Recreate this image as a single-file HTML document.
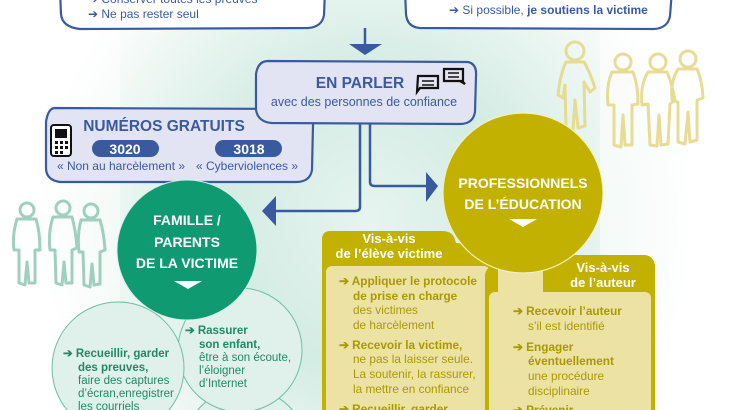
<!DOCTYPE html>
<html><head><meta charset="utf-8"><style>
html,body{margin:0;padding:0;overflow:hidden}
body{width:730px;height:410px;overflow:hidden;font-family:"Liberation Sans",sans-serif;background:#fff}
svg{display:block}
text{font-family:"Liberation Sans",sans-serif}
</style></head><body>
<svg width="730" height="410" viewBox="0 0 730 410" xmlns="http://www.w3.org/2000/svg" overflow="hidden">
<defs>
<radialGradient id="bg" cx="370" cy="220" r="330" gradientUnits="userSpaceOnUse">
<stop offset="0" stop-color="#e6f4ef"/><stop offset="0.45" stop-color="#d3ece4"/><stop offset="0.8" stop-color="#eef7f3"/><stop offset="1" stop-color="#ffffff"/>
</radialGradient>
<clipPath id="cl"><rect width="730" height="410"/></clipPath>
</defs>
<g clip-path="url(#cl)">
<rect width="730" height="410" fill="url(#bg)"/>
<rect x="0" y="0" width="120" height="410" fill="#ffffff" opacity="0.45"/>
<rect x="600" y="0" width="130" height="410" fill="#ffffff" opacity="0.55"/>

<!-- top boxes -->
<path d="M60,-10 L325,-10 L324,15 Q322,27 308,28 L80,29 Q62,27 61,14 Z" fill="#fff" stroke="#3a5aa0" stroke-width="2.2"/>
<text x="88" y="3" font-size="12" fill="#3a5aa0">➔  Conserver toutes les preuves</text>
<text x="88" y="18" font-size="12" fill="#3a5aa0">➔  Ne pas rester seul</text>
<path d="M405,-10 L672,-10 L670,16 Q668,28 654,29 L420,28 Q407,27 406,14 Z" fill="#fff" stroke="#3a5aa0" stroke-width="2.2"/>
<text x="449" y="14" font-size="12" fill="#3a5aa0">➔  Si possible, <tspan font-weight="bold">je soutiens la victime</tspan></text>

<!-- down arrow -->
<line x1="365" y1="28" x2="365" y2="48" stroke="#3a5aa0" stroke-width="2.5"/>
<polygon points="349,44 382,44 365,55" fill="#3a5aa0"/>

<!-- connectors -->
<path d="M360,120 L360,207 Q360,211 355,211 L275,211" fill="none" stroke="#3a5aa0" stroke-width="2.5"/>
<polygon points="262,211 276,196 276,226" fill="#3a5aa0"/>
<path d="M370,120 L370,182 Q370,186 375,186 L428,186" fill="none" stroke="#3a5aa0" stroke-width="2.5"/>
<polygon points="438,186 426,172 426,202" fill="#3a5aa0"/>

<!-- numeros box -->
<path d="M55,108 L305,109 Q314,112 313,125 L312,170 Q310,182 296,182 L60,182 Q46,180 46,168 L46,122 Q48,108 55,108 Z" fill="#e2e3f3" stroke="#3a5aa0" stroke-width="2.2"/>
<text x="164" y="131" font-size="15.5" font-weight="bold" fill="#3a5aa0" text-anchor="middle">NUMÉROS GRATUITS</text>
<rect x="51" y="125" width="20" height="31" rx="3" fill="#fff" stroke="#111" stroke-width="2"/>
<rect x="55" y="129" width="12" height="9" fill="#111"/>
<g fill="#111"><rect x="55" y="141" width="3" height="3"/><rect x="60" y="141" width="3" height="3"/><rect x="65" y="141" width="3" height="3"/><rect x="55" y="146" width="3" height="3"/><rect x="60" y="146" width="3" height="3"/><rect x="65" y="146" width="3" height="3"/><rect x="55" y="151" width="3" height="3"/><rect x="60" y="151" width="3" height="3"/></g>
<rect x="92" y="140" width="67" height="17" rx="8.5" fill="#3a5aa0"/>
<text x="125" y="154" font-size="14" font-weight="bold" fill="#fff" text-anchor="middle">3020</text>
<rect x="215" y="140" width="67" height="17" rx="8.5" fill="#3a5aa0"/>
<text x="249" y="154" font-size="14" font-weight="bold" fill="#fff" text-anchor="middle">3018</text>
<text x="121" y="170" font-size="12" fill="#3a5aa0" text-anchor="middle">« Non au harcèlement »</text>
<text x="247" y="170" font-size="12" fill="#3a5aa0" text-anchor="middle">« Cyberviolences »</text>

<!-- en parler box -->
<path d="M268,61 L468,62 Q477,64 476,76 L475,112 Q473,124 460,124 L272,123 Q258,122 256,110 L256,74 Q258,61 268,61 Z" fill="#e2e3f3" stroke="#3a5aa0" stroke-width="2.2"/>
<text x="360" y="88" font-size="15.5" font-weight="bold" fill="#3a5aa0" text-anchor="middle">EN PARLER</text>
<text x="364" y="106" font-size="12.5" fill="#3a5aa0" text-anchor="middle">avec des personnes de confiance</text>
<g fill="none" stroke="#111" stroke-width="2.2">
<path d="M418,76 h20 v12 h-18 l-3,4 z"/>
<path d="M444,69 h19 v12 h-1 l3,3 l-5,-3 h-16 z"/>
</g>
<g stroke="#111" stroke-width="1.5"><line x1="422" y1="81" x2="434" y2="81"/><line x1="422" y1="85" x2="434" y2="85"/><line x1="448" y1="73" x2="459" y2="73"/><line x1="448" y1="77" x2="459" y2="77"/></g>

<!-- people right (gold) -->
<g fill="none" stroke="#e6d98a" stroke-width="3" stroke-linejoin="round" opacity="0.9">
<circle cx="575" cy="51" r="9"/><path d="M566,62 Q560,75 558,95 L563,98 L565,85 L566,128 L573,130 L575,100 L578,128 L585,126 L584,82 L590,92 L595,88 Q590,72 584,62 Z"/>
<circle cx="623" cy="62" r="8"/><path d="M612,72 Q606,85 608,105 L614,105 L614,145 L621,147 L623,115 L625,145 L632,145 L632,105 L638,104 Q638,85 633,72 Z"/>
<circle cx="658" cy="62" r="8"/><path d="M648,72 Q640,85 642,105 L648,104 L650,145 L657,146 L659,115 L661,145 L668,144 L670,104 L675,100 Q672,84 667,72 Z"/>
<circle cx="688" cy="59" r="8"/><path d="M678,69 Q670,82 672,100 L678,102 L678,142 L685,144 L688,112 L690,142 L697,140 L697,100 L703,98 Q702,80 697,69 Z"/>
</g>
<!-- people left (teal) -->
<g fill="none" stroke="#9fd0bf" stroke-width="3" stroke-linejoin="round">
<circle cx="27" cy="210" r="7"/><path d="M17,219 Q12,235 14,250 L19,250 L19,283 L25,285 L27,262 L29,283 L35,283 L35,250 L40,250 Q40,232 36,219 Z"/>
<circle cx="63" cy="208" r="7"/><path d="M53,217 Q48,232 50,250 L55,250 L56,283 L62,285 L64,262 L66,283 L72,283 L72,250 L77,248 Q76,232 72,217 Z"/>
<circle cx="91" cy="211" r="7"/><path d="M81,220 Q77,235 79,252 L83,252 L84,285 L90,287 L92,264 L94,285 L100,284 L100,252 L105,250 Q104,233 100,220 Z"/>
</g>

<!-- light green bubbles -->
<circle cx="245" cy="450" r="62" fill="#e0f0ea" stroke="#6fbfa3" stroke-width="1"/>
<circle cx="240" cy="350" r="62" fill="#e0f0ea" stroke="#6fbfa3" stroke-width="1"/>
<circle cx="118" cy="368" r="66" fill="#e0f0ea" stroke="#6fbfa3" stroke-width="1"/>

<!-- green circle -->
<circle cx="187" cy="250" r="70" fill="#0f9a72" stroke="#d8f0e8" stroke-width="1"/>
<g font-size="14" font-weight="bold" fill="#fff" text-anchor="middle">
<text x="187" y="225">FAMILLE /</text>
<text x="187" y="247">PARENTS</text>
<text x="187" y="268">DE LA VICTIME</text>
</g>
<polygon points="174,281 202,281 188,289" fill="#fff"/>

<g font-size="11.5" fill="#1f8a67">
<text x="185" y="334" font-weight="bold">➔ Rassurer</text>
<text x="199" y="348" font-weight="bold">son enfant,</text>
<text x="199" y="361">être à son écoute,</text>
<text x="199" y="374">l’éloigner</text>
<text x="199" y="387">d’Internet</text>
<text x="63" y="357" font-weight="bold">➔ Recueillir, garder</text>
<text x="78" y="371" font-weight="bold">des preuves,</text>
<text x="78" y="384">faire des captures</text>
<text x="78" y="397">d’écran,enregistrer</text>
<text x="78" y="410">les courriels</text>
</g>

<!-- gold cards -->
<path d="M322,410 L322,238 Q323,231 330,231 L442,231 Q453,231 455,240 L456,243 Q482,244 495,255 Q500,262 500,270 L500,410 Z" fill="#c2b100"/>
<rect x="326" y="266" width="164" height="150" rx="6" fill="#ece2a4"/>
<path d="M485,410 L485,275 Q486,266 496,266 L543,266 L543,262 Q544,255 552,255 L645,255 Q653,256 655,265 L655,410 Z" fill="#c2b100"/>
<rect x="489" y="292" width="162" height="125" rx="6" fill="#ece2a4"/>
<rect x="498" y="268" width="45" height="24" fill="#ece2a4"/>
<g font-size="13" font-weight="bold" fill="#fff" text-anchor="middle">
<text x="389" y="243">Vis-à-vis</text>
<text x="389" y="258">de l’élève victime</text>
<text x="603" y="272">Vis-à-vis</text>
<text x="603" y="287">de l’auteur</text>
</g>
<g font-size="11.8" fill="#a99a00">
<text x="339" y="285" font-weight="bold">➔ Appliquer le protocole</text>
<text x="353" y="300" font-weight="bold">de prise en charge</text>
<text x="353" y="314">des victimes</text>
<text x="353" y="329">de harcèlement</text>
<text x="339" y="349" font-weight="bold">➔ Recevoir la victime,</text>
<text x="353" y="363">ne pas la laisser seule.</text>
<text x="353" y="378">La soutenir, la rassurer,</text>
<text x="353" y="393">la mettre en confiance</text>
<text x="339" y="413" font-weight="bold">➔ Recueillir, garder</text>
<text x="513" y="315" font-weight="bold">➔ Recevoir l’auteur</text>
<text x="528" y="330">s’il est identifié</text>
<text x="513" y="351" font-weight="bold">➔ Engager</text>
<text x="528" y="365" font-weight="bold">éventuellement</text>
<text x="528" y="380">une procédure</text>
<text x="528" y="395">disciplinaire</text>
<text x="513" y="414" font-weight="bold">➔ Prévenir</text>
</g>

<!-- gold circle -->
<circle cx="523" cy="193" r="80" fill="#c2b100" stroke="#f3eec0" stroke-width="1.2"/>
<g font-size="14" font-weight="bold" fill="#fff" text-anchor="middle">
<text x="523" y="188">PROFESSIONNELS</text>
<text x="523" y="209">DE L’ÉDUCATION</text>
</g>
<polygon points="509,219 537,219 523,227" fill="#fff"/>
</g>
</svg>
</body></html>
